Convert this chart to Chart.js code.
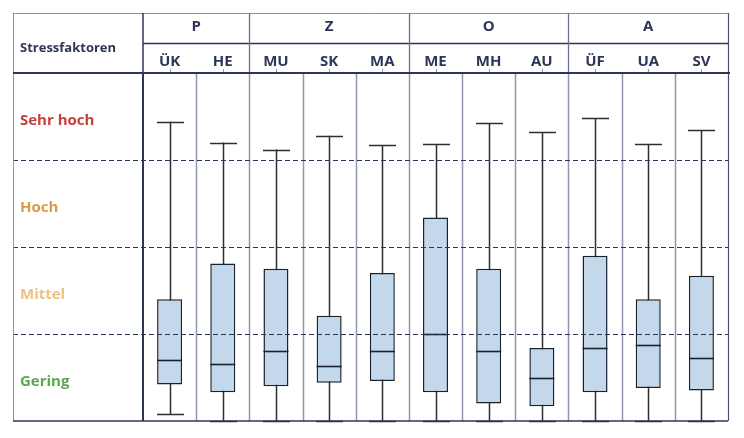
<!DOCTYPE html>
<html><head><meta charset="utf-8">
<script src="https://cdn.jsdelivr.net/npm/chart.js@4/dist/chart.umd.min.js"></script>
<style>html,body{margin:0;padding:0;background:#fff}</style>
</head><body>
<canvas id="c" width="744" height="438"></canvas>
<script>
const categories = ['ÜK','HE','MU','SK','MA','ME','MH','AU','ÜF','UA','SV'];
const groupLabels = ['P','Z','O','A'];
const groupSizes = [2,3,3,3];
const levelLabels = ['Gering','Mittel','Hoch','Sehr hoch'];
const levelColors = ['#5aa74f','#eec27f','#dc9a45','#c9403a'];
const whiskerLow  = [0.08,0,0,0,0,0,0,0,0,0,0];
const q1          = [0.42,0.33,0.40,0.44,0.46,0.33,0.20,0.17,0.33,0.38,0.35];
const median      = [0.70,0.66,0.81,0.63,0.81,1.00,0.81,0.50,0.84,0.87,0.72];
const q3          = [1.40,1.81,1.75,1.21,1.70,2.34,1.75,0.84,1.90,1.40,1.67];
const whiskerHigh = [3.44,3.20,3.12,3.28,3.17,3.18,3.42,3.32,3.48,3.18,3.34];
const headerTitle = 'Stressfaktoren';

const NAVY = '#2e3658';
const FONT = '"Open Sans", "DejaVu Sans", sans-serif';

const tablePlugin = {
  id: 'table',
  beforeDatasetsDraw(chart) {
    const ctx = chart.ctx, x = chart.scales.x, y = chart.scales.y, ca = chart.chartArea;
    const meta = chart.getDatasetMeta(0);
    ctx.save();
    ctx.strokeStyle = '#8e97ab'; ctx.lineWidth = 1.5;
    for (let i = 1; i < categories.length; i++) {
      const px = Math.round((x.getPixelForValue(i - 1) + x.getPixelForValue(i)) / 2) + 0.5;
      ctx.beginPath(); ctx.moveTo(px, ca.top); ctx.lineTo(px, ca.bottom); ctx.stroke();
    }
    ctx.strokeStyle = '#2f2f2f'; ctx.lineWidth = 1.5;
    meta.data.forEach((bar, i) => {
      const cx = Math.round(bar.x) + 0.5, hw = bar.width / 2 + 1;
      const yl = y.getPixelForValue(whiskerLow[i]), yh = y.getPixelForValue(whiskerHigh[i]);
      ctx.beginPath(); ctx.moveTo(cx, yl); ctx.lineTo(cx, yh); ctx.stroke();
      ctx.beginPath(); ctx.moveTo(cx - hw, Math.round(yh) + 0.5); ctx.lineTo(cx + hw, Math.round(yh) + 0.5); ctx.stroke();
      ctx.beginPath(); ctx.moveTo(cx - hw, Math.round(yl) + 0.5); ctx.lineTo(cx + hw, Math.round(yl) + 0.5); ctx.stroke();
    });
    ctx.restore();
  },
  afterDatasetsDraw(chart) {
    const ctx = chart.ctx, x = chart.scales.x, y = chart.scales.y, ca = chart.chartArea;
    const meta = chart.getDatasetMeta(0);
    const L = 13;
    ctx.save();
    ctx.strokeStyle = '#1a212e'; ctx.lineWidth = 1.6;
    meta.data.forEach((bar, i) => {
      const ym = Math.round(y.getPixelForValue(median[i])) + 0.5;
      ctx.beginPath(); ctx.moveTo(bar.x - bar.width / 2, ym); ctx.lineTo(bar.x + bar.width / 2, ym); ctx.stroke();
    });
    ctx.strokeStyle = NAVY; ctx.lineWidth = 1; ctx.setLineDash([5, 3]);
    for (let v = 1; v < levelLabels.length; v++) {
      const py = Math.round(y.getPixelForValue(v)) + 0.5;
      ctx.beginPath(); ctx.moveTo(L, py); ctx.lineTo(ca.right, py); ctx.stroke();
    }
    ctx.setLineDash([]);
    const top = 13;
    ctx.strokeStyle = '#8f93a3'; ctx.lineWidth = 1;
    ctx.beginPath(); ctx.moveTo(L + 0.5, top); ctx.lineTo(L + 0.5, ca.bottom); ctx.stroke();
    ctx.beginPath(); ctx.moveTo(L, top + 0.5); ctx.lineTo(ca.right, top + 0.5); ctx.stroke();
    ctx.strokeStyle = '#4a5068'; ctx.lineWidth = 1.2;
    ctx.beginPath(); ctx.moveTo(ca.right + 0.5, top); ctx.lineTo(ca.right + 0.5, ca.bottom); ctx.stroke();
    const midY = 43;
    ctx.strokeStyle = NAVY; ctx.lineWidth = 1.3;
    ctx.beginPath(); ctx.moveTo(ca.left, midY + 0.5); ctx.lineTo(ca.right, midY + 0.5); ctx.stroke();
    let start = 0;
    const edges = [ca.left];
    groupSizes.forEach((n) => {
      start += n;
      edges.push(start >= categories.length ? ca.right : (x.getPixelForValue(start - 1) + x.getPixelForValue(start)) / 2);
    });
    ctx.strokeStyle = '#6c7388'; ctx.lineWidth = 1.3;
    edges.forEach((ex, k) => {
      if (k === 0 || k === edges.length - 1) return;
      const px = Math.round(ex) + 0.5;
      ctx.beginPath(); ctx.moveTo(px, top); ctx.lineTo(px, ca.top); ctx.stroke();
    });
    ctx.strokeStyle = NAVY; ctx.lineWidth = 1.5;
    ctx.beginPath(); ctx.moveTo(ca.left, top); ctx.lineTo(ca.left, ca.top); ctx.stroke();
    ctx.fillStyle = NAVY; ctx.font = 'bold 15px ' + FONT; ctx.textAlign = 'center'; ctx.textBaseline = 'middle';
    groupLabels.forEach((g, k) => ctx.fillText(g, (edges[k] + edges[k + 1]) / 2, 27));
    ctx.font = 'bold 13px ' + FONT; ctx.textAlign = 'left';
    ctx.fillText(headerTitle, 20, 48);
    ctx.strokeStyle = '#8e97ab'; ctx.lineWidth = 1;
    categories.forEach((c, i) => {
      const px = Math.round(x.getPixelForValue(i)) + 0.5;
      ctx.beginPath(); ctx.moveTo(px, ca.top - 4); ctx.lineTo(px, ca.top); ctx.stroke();
    });
    ctx.strokeStyle = NAVY; ctx.lineWidth = 2;
    ctx.beginPath(); ctx.moveTo(L, ca.top); ctx.lineTo(ca.right + 2, ca.top); ctx.stroke();
    ctx.beginPath(); ctx.moveTo(ca.left, ca.top); ctx.lineTo(ca.left, ca.bottom); ctx.stroke();
    ctx.lineWidth = 1.5;
    ctx.beginPath(); ctx.moveTo(L, ca.bottom); ctx.lineTo(ca.right, ca.bottom); ctx.stroke();
    ctx.restore();
  }
};

new Chart(document.getElementById('c'), {
  type: 'bar',
  data: {
    labels: categories,
    datasets: [{
      data: q1.map((v, i) => [v, q3[i]]),
      backgroundColor: '#c4d8eb',
      borderColor: '#1a212e',
      borderWidth: 1.5,
      borderSkipped: false,
      barPercentage: 0.47,
      categoryPercentage: 1
    }]
  },
  options: {
    responsive: false,
    animation: false,
    devicePixelRatio: 1,
    layout: { padding: { top: 13, left: 20, right: 16, bottom: 17 } },
    plugins: { legend: { display: false }, tooltip: { enabled: false } },
    scales: {
      x: {
        position: 'top',
        offset: true,
        grid: { display: false, drawTicks: false },
        border: { display: false },
        ticks: { color: NAVY, font: { family: FONT, size: 15, weight: 'bold' }, padding: 2, maxRotation: 0 },
        afterFit(s) { s.height = 60; }
      },
      y: {
        min: 0, max: 4,
        grid: { display: false, drawTicks: false },
        border: { display: false },
        afterBuildTicks(s) { s.ticks = levelLabels.map((l, i) => ({ value: i + 0.5 })); },
        ticks: {
          crossAlign: 'far',
          labelOffset: 4,
          callback: (v, i) => levelLabels[i],
          color: (c) => levelColors[c.index],
          font: { family: FONT, size: 15, weight: 'bold' }
        },
        afterFit(s) { s.width = 123; }
      }
    }
  },
  plugins: [tablePlugin]
});
</script>
</body></html>
